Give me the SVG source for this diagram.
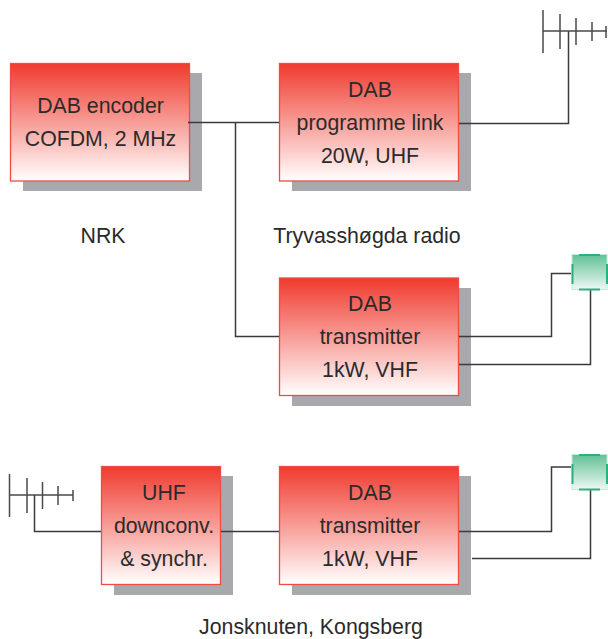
<svg xmlns="http://www.w3.org/2000/svg" width="608" height="639" viewBox="0 0 608 639">
<defs>
<linearGradient id="r" x1="0" y1="0" x2="0" y2="1"><stop offset="0" stop-color="#f03a2e"/><stop offset="1" stop-color="#fff"/></linearGradient>
<linearGradient id="g" x1="0" y1="0" x2="0" y2="1"><stop offset="0" stop-color="#5fc195"/><stop offset="1" stop-color="#eef8f3"/></linearGradient>
</defs>
<style>
.s{fill:#a7a9ac}
.b{fill:url(#r);stroke:#ef4c43;stroke-width:1.3}
.t{font-family:"Liberation Sans",Arial,sans-serif;font-size:21.3px;fill:#2b2a2a;text-anchor:middle}
.c{fill:none;stroke:#3a3a3a;stroke-width:1.5}
.a{fill:none;stroke:#4a4a4a;stroke-width:1.5}
.h{fill:url(#g);stroke:#c5e8d8;stroke-width:1}
.e{fill:none;stroke:#2bb07f;stroke-width:2}
</style>
<rect width="608" height="639" fill="#fff"/>
<g id="encoder"><rect class="s" x="23" y="73" width="179" height="118"/><rect class="b" x="10.500" y="63.500" width="179" height="117.500"/><text class="t" x="100.500" y="113">DAB encoder</text><text class="t" x="100.500" y="146">COFDM, 2 MHz</text></g>
<g id="link"><rect class="s" x="292" y="73" width="179" height="118"/><rect class="b" x="279.500" y="63.500" width="179" height="117.500"/><text class="t" x="370" y="97">DAB</text><text class="t" x="370" y="130">programme link</text><text class="t" x="370" y="163">20W, UHF</text></g>
<g id="tx1"><rect class="s" x="292" y="288" width="179" height="118"/><rect class="b" x="279.500" y="278" width="179" height="117.500"/><text class="t" x="370" y="311">DAB</text><text class="t" x="370" y="344">transmitter</text><text class="t" x="370" y="377">1kW, VHF</text></g>
<g id="downconv"><rect class="s" x="114" y="476" width="119" height="119"/><rect class="b" x="101.500" y="466.500" width="119" height="118"/><text class="t" x="164" y="500">UHF</text><text class="t" x="164" y="533">downconv.</text><text class="t" x="164" y="566">&amp; synchr.</text></g>
<g id="tx2"><rect class="s" x="292" y="476" width="179" height="119"/><rect class="b" x="279.500" y="466.500" width="179" height="118"/><text class="t" x="370" y="500">DAB</text><text class="t" x="370" y="533">transmitter</text><text class="t" x="370" y="566">1kW, VHF</text></g>
<g id="connectors">
<path class="c" d="M188 122.500H279M235.500 122.500V336.500H279"/>
<path class="c" d="M459 123.500H568.500V31"/>
<path class="c" d="M459 336.500H551.500V273.500H571"/>
<path class="c" d="M459 364.500H590.500V290"/>
<path class="c" d="M34.500 495V531.500H101"/>
<path class="c" d="M221 531.500H279"/>
<path class="c" d="M459 531.500H551.500V467H571"/>
<path class="c" d="M472 558.500H590.500V483"/>
</g>
<g id="antenna1"><path class="a" d="M543 31H607M543 10V53M560 14V49M576 18V45M592 22V41M606 26V38"/></g>
<g id="antenna2"><path class="a" d="M9 495H73M9.500 474V517M27 478V513M42.500 482V509M58 486V505M73 490V501"/></g>
<g id="dish1"><rect class="h" x="572" y="254.500" width="35" height="35"/><path class="e" d="M579 255H600M579 289.500H600M572.500 264V284M607 264V284"/></g>
<g id="dish2"><rect class="h" x="572" y="454.500" width="35" height="35"/><path class="e" d="M579 455H600M579 489.500H600M572.500 464V484M607 464V484"/></g>
<g id="labels"><text class="t" x="103" y="243">NRK</text><text class="t" x="367" y="243">Tryvasshøgda radio</text><text class="t" x="311" y="634">Jonsknuten, Kongsberg</text></g>
</svg>
